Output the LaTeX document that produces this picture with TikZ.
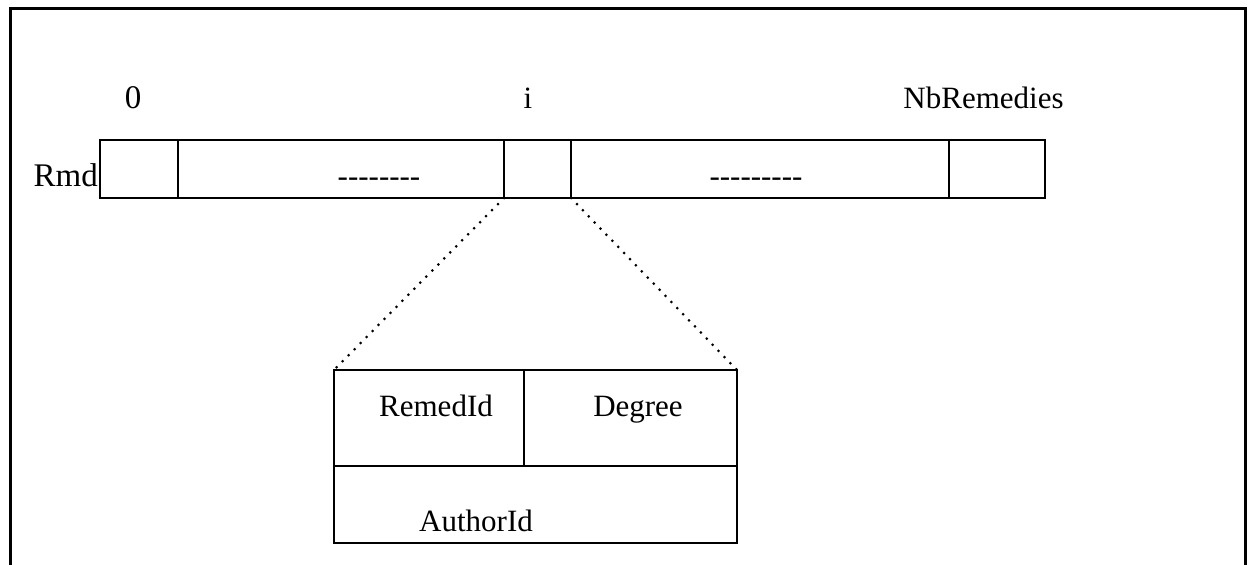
\documentclass[tikz,border=0pt]{standalone}
\usepackage{fontspec}
\setmainfont{Liberation Serif}
\begin{document}
\begin{tikzpicture}[x=1pt,y=-1pt,
  cell/.style={draw,line width=1.8pt,inner sep=0pt,outer sep=0pt,minimum height=58pt},
  field/.style={draw,line width=1.8pt,inner sep=0pt,outer sep=0pt},
  lbl/.style={inner sep=0pt,anchor=base,font=\fontsize{31}{36}\selectfont},
  zoomline/.style={line width=3pt,line cap=round,dash pattern=on 0pt off 8.5pt}]
\useasboundingbox (0,0) rectangle (1254,565);
% outer frame (open at bottom)
\draw[line width=3pt] (10,570) -- (10,8) -- (1245,8) -- (1245,570);
% array cells
\node[cell,minimum width=78pt]  (c0) at (139,169) {};
\node[cell,minimum width=326pt] (cL) at (341,169) {};
\node[cell,minimum width=67pt]  (ci) at (537.5,169) {};
\node[cell,minimum width=378pt] (cR) at (760,169) {};
\node[cell,minimum width=96pt]  (cN) at (997,169) {};
% labels
\node[lbl,font=\fontsize{33}{38}\selectfont] (l0) at (133,108) {0};
\node[lbl] (li) at (528,108) {i};
\node[lbl] (lN) at (983.5,108) {NbRemedies};
\node[lbl,anchor=base east,font=\fontsize{33}{38}\selectfont] (rmd) at (98,186) {Rmd};
\node[lbl] (dL) at (379,186) {-\kern0pt-\kern0pt-\kern0pt-\kern0pt-\kern0pt-\kern0pt-\kern0pt-};
\node[lbl] (dR) at (756,186) {-\kern0pt-\kern0pt-\kern0pt-\kern0pt-\kern0pt-\kern0pt-\kern0pt-\kern0pt-};
% detail record
\node[field,minimum width=190pt,minimum height=96pt] (rid) at (429,418) {};
\node[field,minimum width=213pt,minimum height=96pt] (deg) at (630.5,418) {};
\node[field,minimum width=403pt,minimum height=77pt] (auth) at (535.5,504.5) {};
\node[lbl] (trid) at (436,416) {RemedId};
\node[lbl] (tdeg) at (638,416) {Degree};
\node[lbl] (tauth) at (476,531) {AuthorId};
% zoom lines
\draw[zoomline] (ci.south west) -- (rid.north west);
\draw[zoomline] (ci.south east) -- (deg.north east);
\end{tikzpicture}
\end{document}
